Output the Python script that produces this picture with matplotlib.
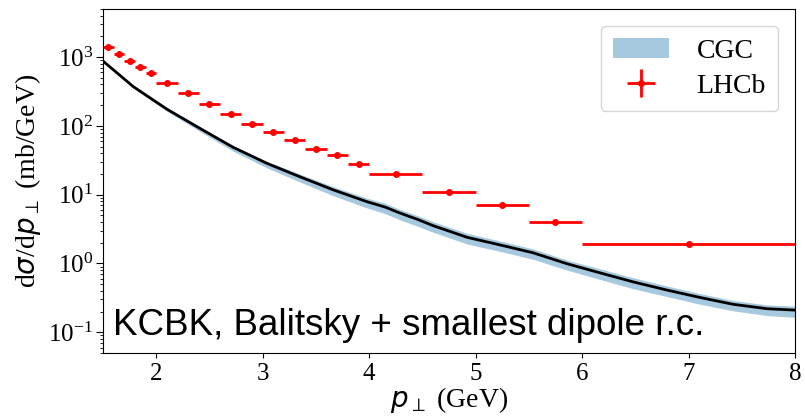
import numpy as np
import matplotlib.pyplot as plt

plt.rcParams['font.family'] = ['Liberation Serif', 'DejaVu Sans']
plt.rcParams['mathtext.fontset'] = 'dejavusans'

# CGC curve (central) and band edges
cgc_pt = [1.5, 1.785, 2.10, 2.41, 2.72, 3.04, 3.35, 3.66, 3.98, 4.15, 4.29, 4.45, 4.60,
          4.92, 5.23, 5.54, 5.86, 6.17, 6.48, 6.80, 7.11, 7.42, 7.74, 8.0]
cgc_val = [875, 371, 175, 92, 49, 28.5, 18.2, 11.8, 7.9, 6.6, 5.4, 4.4, 3.55,
           2.4, 1.86, 1.43, 0.99, 0.73, 0.54, 0.41, 0.32, 0.255, 0.22, 0.21]
cgc_lo = [850, 355, 163, 83, 43, 24.5, 15.3, 9.7, 6.4, 5.3, 4.3, 3.5, 2.85,
          1.92, 1.5, 1.15, 0.8, 0.585, 0.43, 0.33, 0.255, 0.205, 0.175, 0.165]
cgc_hi = [895, 380, 182, 97, 52, 30.5, 19.9, 13.1, 8.9, 7.5, 6.1, 5.0, 4.05,
          2.75, 2.12, 1.63, 1.12, 0.835, 0.62, 0.47, 0.365, 0.29, 0.25, 0.24]

# LHCb data
lhcb_pt = [1.55, 1.65, 1.75, 1.85, 1.95, 2.1, 2.3, 2.5, 2.7, 2.9, 3.1, 3.3, 3.5, 3.7,
           3.9, 4.25, 4.75, 5.25, 5.75, 7.0]
lhcb_xerr = [0.05, 0.05, 0.05, 0.05, 0.05, 0.1, 0.1, 0.1, 0.1, 0.1, 0.1, 0.1, 0.1, 0.1,
             0.1, 0.25, 0.25, 0.25, 0.25, 1.0]
lhcb_val = [1380, 1116, 875, 708, 586, 425, 300, 210, 149, 108, 82, 63, 46.4, 37.6,
            28, 19.7, 10.8, 7.1, 4.06, 1.9]
lhcb_yerr = [v * 0.06 for v in lhcb_val]

fig = plt.figure(figsize=(8.05, 4.2), dpi=100)
ax = fig.add_axes([0.128, 0.1595, 0.8596, 0.8191])

ax.fill_between(cgc_pt, cgc_lo, cgc_hi, color='#a6c9e0', lw=0, label='CGC')
ax.plot(cgc_pt, cgc_val, color='black', lw=2, zorder=2)
ax.errorbar(lhcb_pt, lhcb_val, xerr=lhcb_xerr, yerr=lhcb_yerr, fmt='o', color='red',
            ms=4, lw=2, capsize=0, label='LHCb', zorder=3)

ax.set_yscale('log')
ax.set_xlim(1.5, 8)
ax.set_ylim(0.05, 5000)
ax.tick_params(labelsize=18)
ax.tick_params(which='both', direction='out')
ax.tick_params(axis='y', which='major', length=5, pad=2)
ax.set_xlabel(r'$p_\perp$ (GeV)', fontsize=20, labelpad=0)
ax.set_ylabel(r'd$\sigma$/d$p_\perp$ (mb/GeV)', fontsize=20, labelpad=4)

ax.legend(loc='upper right', fontsize=20, handlelength=2.0, borderpad=0.45,
          labelspacing=0.35, handletextpad=1.0, borderaxespad=0.6)
ax.text(0.014, 0.052, 'KCBK, Balitsky + smallest dipole r.c.', transform=ax.transAxes,
        fontsize=26.5, family='Liberation Sans')

fig.savefig('out.png', dpi=100)
